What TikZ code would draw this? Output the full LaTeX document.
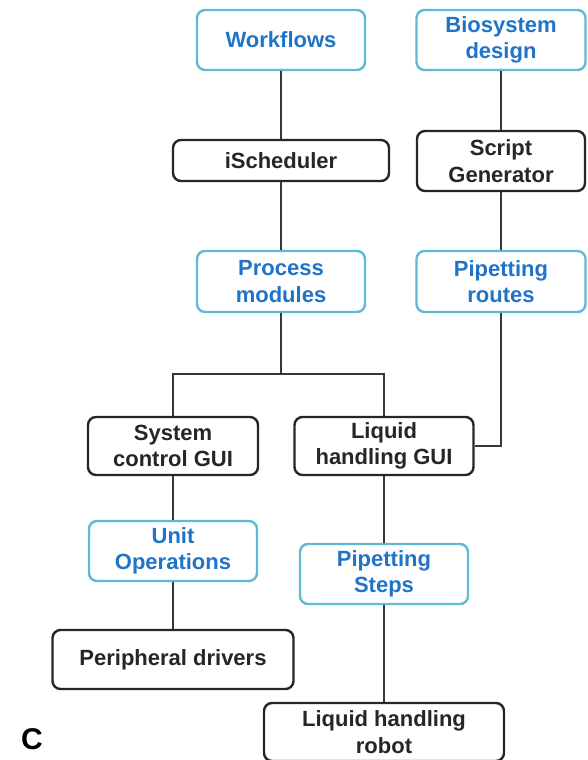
\documentclass[tikz,border=0pt]{standalone}
\usepackage{fontspec}
\setmainfont{Liberation Sans}
\definecolor{boxblue}{RGB}{95,186,214}
\definecolor{txtblue}{RGB}{32,116,200}
\definecolor{linegray}{RGB}{55,55,55}
\begin{document}
\begin{tikzpicture}[x=1pt,y=-1pt,
  box/.style={rectangle,rounded corners=8pt,line width=2.4pt,align=center,
    inner sep=0pt,fill=white,
    font=\fontsize{22}{26.5}\selectfont\bfseries},
  darkbox/.style={box,draw=black!85,text=black!85},
  bluebox/.style={box,draw=boxblue,text=txtblue},
  link/.style={line width=2.2pt,draw=linegray}]
\useasboundingbox (0,0) rectangle (587,760);

% upper row
\node[bluebox,minimum width=168pt,minimum height=60pt] (wf) at (281,40) {Workflows};
\node[bluebox,minimum width=169pt,minimum height=60pt] (bio) at (501,40) {Biosystem\\design};
\node[darkbox,minimum width=216pt,minimum height=41pt] (isch) at (281,160.5) {iScheduler};
\node[darkbox,minimum width=168pt,minimum height=60pt] (sg) at (501,161) {Script\\Generator};
\node[bluebox,minimum width=168pt,minimum height=61pt] (pm) at (281,281.5) {Process\\modules};
\node[bluebox,minimum width=169pt,minimum height=61pt] (pr) at (501,281.5) {Pipetting\\routes};

% GUIs
\node[darkbox,minimum width=170pt,minimum height=58pt] (scg) at (173,446) {System\\control GUI};
\node[darkbox,minimum width=179pt,minimum height=58pt] (lhg) at (384,446) {Liquid\\handling GUI};

% lower row
\node[bluebox,minimum width=168pt,minimum height=60pt] (uo) at (173,551) {Unit\\Operations};
\node[bluebox,minimum width=168pt,minimum height=60pt] (ps) at (384,574) {Pipetting\\Steps};
\node[darkbox,minimum width=241pt,minimum height=59pt] (pd) at (173,659.5) {Peripheral drivers};
\node[darkbox,minimum width=240pt,minimum height=58pt] (robot) at (384,732) {Liquid handling\\robot};

\coordinate (split) at (281,374);

% connectors
\draw[link] (wf) -- (isch);
\draw[link] (isch) -- (pm);
\draw[link] (pm) -- (split);
\draw[link] (scg) |- (split) -| (lhg);
\draw[link] (bio) -- (sg);
\draw[link] (sg) -- (pr);
\draw[link] (pr) |- (lhg);
\draw[link] (scg) -- (uo);
\draw[link] (uo) -- (pd);
\draw[link] (lhg) -- (ps);
\draw[link] (ps) -- (robot);

\node[font=\fontsize{30}{30}\selectfont\bfseries] (lbl) at (32,739) {C};
\end{tikzpicture}
\end{document}
